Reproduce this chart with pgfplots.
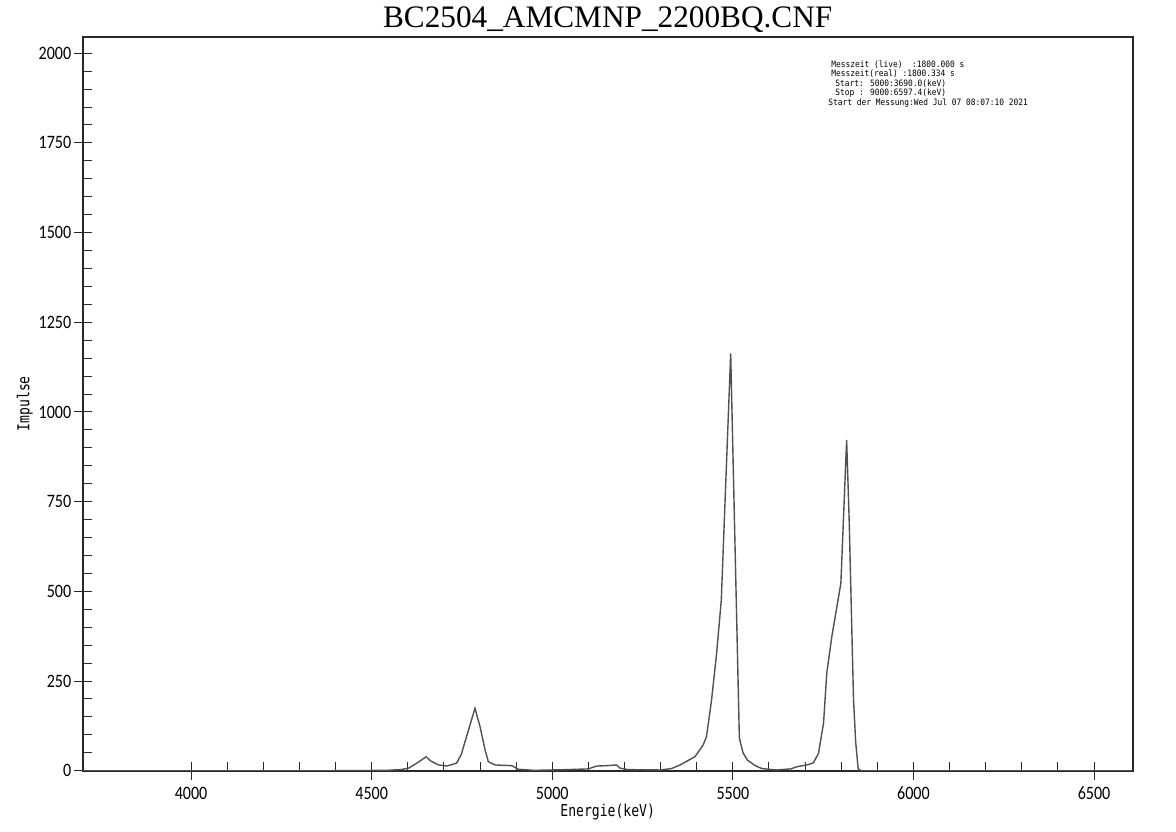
\documentclass[border=0pt]{standalone}
\usepackage{fontspec}
\usepackage{pgfplots}
\pgfplotsset{compat=1.18}
\setmainfont{Liberation Serif}
\newfontfamily\tickfont[FakeStretch=0.85]{Carlito}
\newfontfamily\monofont[FakeStretch=0.8]{DejaVu Sans Mono}
\newfontfamily\infofont[FakeStretch=0.9]{DejaVu Sans Mono}
\definecolor{spec}{RGB}{80,80,80}
\definecolor{axisc}{RGB}{40,40,40}

% Spektrum: Energie (keV) gegen Impulse
\pgfplotstableread{
E     N
3700  0
4400  0
4540  1
4580  3
4602  7
4625  21
4651  39
4662  28
4685  16
4708  13
4735  21
4748  45
4768  113
4786  174
4800  123
4814  58
4823  25
4842  16
4888  14
4906  4
4950  1
5040  3
5100  5
5123  13
5150  14
5178  16
5188  7
5210  3
5300  2
5330  6
5354  16
5395  39
5418  72
5427  95
5441  197
5455  327
5468  476
5494  1163
5500  895
5506  627
5512  359
5518  91
5528  50
5540  30
5560  15
5580  6
5620  2
5660  5
5677  11
5705  16
5723  22
5737  48
5751  132
5760  272
5774  374
5799  522
5815  922
5822  700
5828  450
5834  200
5840  80
5847  5
5855  0
6607  0
}\spectrum

\begin{document}
\begin{tikzpicture}
\begin{axis}[
    scale only axis,
    width=525bp, height=367bp,
    at={(41.35bp,30.65bp)}, anchor=south west,
    xmin=3700, xmax=6607,
    ymin=0, ymax=2046,
    xtick={4000,4500,...,6500},
    ytick={0,250,...,2000},
    minor x tick num=4,
    minor y tick num=4,
    xtick pos=bottom, ytick pos=left,
    tick align=inside,
    major tick length=9bp,
    minor tick length=4.5bp,
    major x tick style={yshift=-4.5bp},
    major y tick style={xshift=-4.5bp},
    every tick/.style={axisc, line width=0.5bp},
    axis line style={axisc, line width=1bp},
    scaled ticks=false,
    xticklabel style={font=\tickfont\fontsize{9.5}{10}\selectfont, inner sep=0pt, anchor=north, yshift=-8bp},
    yticklabel style={font=\tickfont\fontsize{9.5}{10}\selectfont, inner sep=0pt, anchor=east, xshift=-5.5bp},
    /pgf/number format/assume math mode=true,
    /pgf/number format/1000 sep={},
    xlabel={Energie(keV)},
    xlabel style={font=\monofont\fontsize{8.2}{9}\selectfont, at={(axis description cs:0.5,0)}, anchor=base, yshift=-23bp, inner sep=0pt},
    ylabel={Impulse},
    ylabel style={font=\monofont\fontsize{8.2}{9}\selectfont, at={(axis description cs:0,0.5)}, anchor=center, yshift=28.9bp, inner sep=0pt},
    every axis title shift=0pt,
    title={BC2504\_AMCMNP\_2200BQ.CNF},
    title style={font=\fontsize{15.7}{16}\selectfont, at={(axis description cs:0.5,1)}, anchor=base, yshift=4.4bp, inner sep=0pt},
]
\addplot[spec, line width=0.7bp] table[x=E, y=N] {\spectrum};
\end{axis}
\begin{scope}[every node/.style={anchor=base west, inner sep=0pt, font=\infofont\fontsize{4.4}{5}\selectfont}]
\node at (415.5bp,382.25bp) {Messzeit (live)~~:1800.000 s};
\node at (415.5bp,377.5bp) {Messzeit(real) :1800.334 s};
\node at (417.5bp,372.75bp) {Start: 5000:3690.0(keV)};
\node at (417.5bp,368bp) {Stop : 9000:6597.4(keV)};
\node at (414bp,363.25bp) {Start der Messung:Wed Jul 07 08:07:10 2021};
\end{scope}
\pgfresetboundingbox
\useasboundingbox (0,0) rectangle (588bp,416bp);
\end{tikzpicture}
\end{document}
